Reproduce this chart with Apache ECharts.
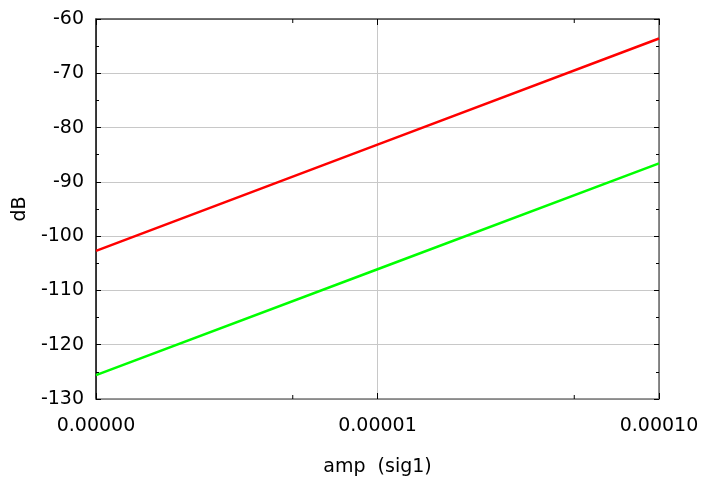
<!DOCTYPE html>
<html>
<head>
<meta charset="utf-8">
<script src="https://cdn.jsdelivr.net/npm/echarts@6/dist/echarts.min.js"></script>
<style>
html,body{margin:0;padding:0;background:#fff;}
#chart{width:702px;height:485px;}
</style>
</head>
<body>
<div id="chart"></div>
<script>
// Data
const ampValues = [0.000001, 0.00001, 0.0001];
const redDb = [-102.7, -83.15, -63.6];
const greenDb = [-125.6, -106.1, -86.6];
const yMin = -130, yMax = -60, yStep = 10;
const xMin = 0.000001, xMax = 0.0001;
const minorXTicks = [0.000005, 0.00005];
const xName = 'amp  (sig1)';
const yName = 'dB';

const FONT = 'DejaVu Sans';
const chart = echarts.init(document.getElementById('chart'), null, {renderer: 'canvas'});

const option = {
  animation: false,
  backgroundColor: '#ffffff',
  grid: {left: 96, right: 43, top: 19, bottom: 86, containLabel: false},
  xAxis: [
    {
      type: 'log', logBase: 10, min: xMin, max: xMax, position: 'bottom',
      name: xName, nameLocation: 'middle', nameGap: 59,
      nameTextStyle: {fontFamily: FONT, fontSize: 19, color: '#000'},
      axisLine: {show: true, lineStyle: {color: '#777', width: 1.5}},
      axisTick: {show: true, inside: true, length: 6, lineStyle: {color: '#000', width: 1}},
      minorTick: {show: false},
      axisLabel: {show: true, fontFamily: FONT, fontSize: 19, color: '#000', margin: 18,
        formatter: v => Number(v).toFixed(5)},
      splitLine: {show: true, lineStyle: {color: '#c8c8c8', width: 1}}
    },
    {
      type: 'log', logBase: 10, min: xMin, max: xMax, position: 'top',
      axisLine: {show: true, lineStyle: {color: '#444', width: 1.5}},
      axisTick: {show: true, inside: true, length: 6, lineStyle: {color: '#000', width: 1}},
      axisLabel: {show: false},
      splitLine: {show: false}
    }
  ],
  yAxis: [
    {
      type: 'value', min: yMin, max: yMax, interval: yStep, position: 'left',
      name: yName, nameLocation: 'middle', nameGap: 63, nameRotate: 90,
      nameTextStyle: {fontFamily: FONT, fontSize: 19, color: '#000'},
      axisLine: {show: true, lineStyle: {color: '#000', width: 1.5}},
      axisTick: {show: true, inside: true, length: 5, lineStyle: {color: '#000', width: 1}},
      minorTick: {show: true, splitNumber: 2, length: 3, lineStyle: {color: '#000', width: 1}},
      axisLabel: {show: true, fontFamily: FONT, fontSize: 19, color: '#000', margin: 12},
      splitLine: {show: true, lineStyle: {color: '#c8c8c8', width: 1}}
    },
    {
      type: 'value', min: yMin, max: yMax, interval: yStep, position: 'right',
      axisLine: {show: true, lineStyle: {color: '#666', width: 1.5}},
      axisTick: {show: true, inside: true, length: 5, lineStyle: {color: '#000', width: 1}},
      minorTick: {show: true, splitNumber: 2, length: 3, lineStyle: {color: '#000', width: 1}},
      axisLabel: {show: false},
      splitLine: {show: false}
    }
  ],
  series: [
    {
      type: 'line', xAxisIndex: 0, yAxisIndex: 0, name: 'red',
      data: ampValues.map((x, i) => [x, redDb[i]]),
      showSymbol: false, symbol: 'none',
      lineStyle: {color: '#ff0000', width: 2.5}, z: 5
    },
    {
      type: 'line', xAxisIndex: 0, yAxisIndex: 0, name: 'green',
      data: ampValues.map((x, i) => [x, greenDb[i]]),
      showSymbol: false, symbol: 'none',
      lineStyle: {color: '#00ff00', width: 2.5}, z: 5
    },
    {
      type: 'custom', xAxisIndex: 0, yAxisIndex: 0, silent: true, clip: false,
      data: minorXTicks.map(v => [v, yMin]),
      renderItem: function (params, api) {
        const xv = api.value(0);
        const b = api.coord([xv, yMin]);
        const t = api.coord([xv, yMax]);
        return {
          type: 'group',
          children: [
            {type: 'line', shape: {x1: b[0], y1: b[1], x2: b[0], y2: b[1] - 4}, style: {stroke: '#000', lineWidth: 1}},
            {type: 'line', shape: {x1: t[0], y1: t[1], x2: t[0], y2: t[1] + 4}, style: {stroke: '#000', lineWidth: 1}}
          ]
        };
      },
      z: 6
    }
  ]
};
chart.setOption(option);
</script>
</body>
</html>
